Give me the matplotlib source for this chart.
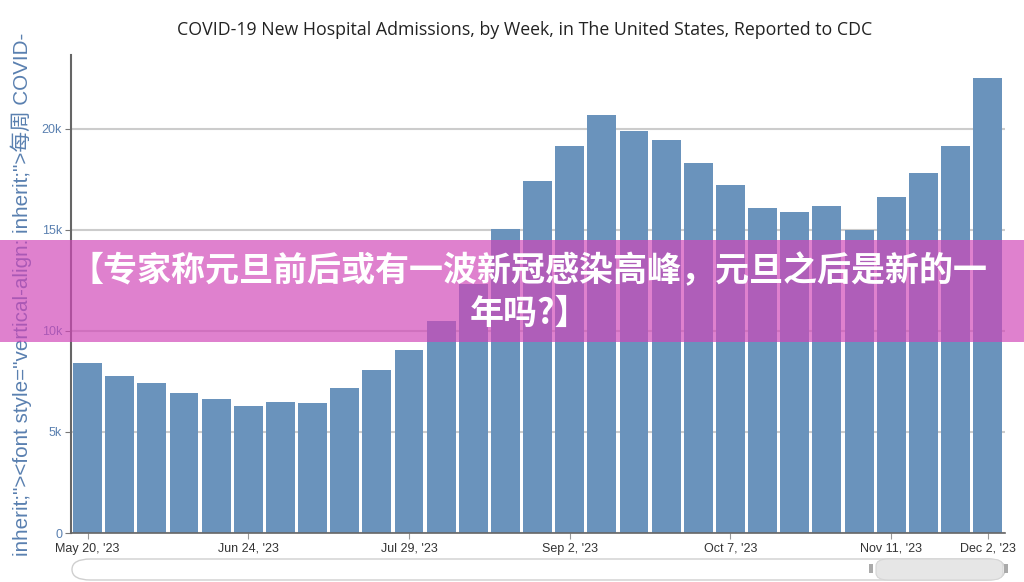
import numpy as np
import matplotlib.pyplot as plt
from matplotlib.patches import Rectangle, FancyBboxPatch

weeks = ["May 20, '23", "May 27, '23", "Jun 3, '23", "Jun 10, '23", "Jun 17, '23",
         "Jun 24, '23", "Jul 1, '23", "Jul 8, '23", "Jul 15, '23", "Jul 22, '23",
         "Jul 29, '23", "Aug 5, '23", "Aug 12, '23", "Aug 19, '23", "Aug 26, '23",
         "Sep 2, '23", "Sep 9, '23", "Sep 16, '23", "Sep 23, '23", "Sep 30, '23",
         "Oct 7, '23", "Oct 14, '23", "Oct 21, '23", "Oct 28, '23", "Nov 4, '23",
         "Nov 11, '23", "Nov 18, '23", "Nov 25, '23", "Dec 2, '23"]
admissions = [8420, 7770, 7430, 6930, 6630, 6290, 6490, 6440, 7180, 8070,
              9060, 10500, 12300, 15050, 17400, 19160, 20700, 19900, 19460, 18300,
              17200, 16100, 15900, 16200, 15000, 16600, 17800, 19160, 22500]
shown_ticks = [0, 5, 10, 15, 20, 25, 28]
y_ticks = [0, 5000, 10000, 15000, 20000]
y_labels = ["0", "5k", "10k", "15k", "20k"]

title = "COVID-19 New Hospital Admissions, by Week, in The United States, Reported to CDC"
ylabel = 'inherit;"><font style="vertical-align: inherit;">每周 COVID-'
banner = "【专家称元旦前后或有一波新冠感染高峰，元旦之后是新的一\n年吗?】"

W, H = 1024, 582
fig = plt.figure(figsize=(W / 100, H / 100), dpi=100)
ax = fig.add_axes([70.5 / W, (H - 533) / H, (1005 - 70.5) / W, (533 - 55) / H])

x = np.arange(len(admissions))
ax.bar(x, admissions, width=0.9, color='#6a93bc', zorder=2)
ax.set_xlim(-0.53, len(admissions) - 0.46)
ax.set_ylim(0, 23650)

ax.set_yticks(y_ticks)
ax.set_yticklabels(y_labels, color='#5a80b0', fontsize=9, family='Liberation Sans')
ax.set_xticks(shown_ticks)
ax.set_xticklabels([weeks[i] for i in shown_ticks], color='#333333', fontsize=9,
                   family='Liberation Sans')
ax.tick_params(axis='y', length=4, color='#777777', pad=2)
ax.tick_params(axis='x', length=4, color='#999999', pad=3)
ax.grid(axis='y', color='#cccccc', linewidth=1.5, zorder=0)
for s in ['top', 'right']:
    ax.spines[s].set_visible(False)
ax.spines['left'].set_color('#666666')
ax.spines['left'].set_linewidth(1.5)
ax.spines['bottom'].set_color('#666666')
ax.spines['bottom'].set_linewidth(1.2)

fig.text(525 / W, 1 - 30 / H, title, ha='center', va='center', fontsize=12.8,
         family='Open Sans', color='#222222')
fig.text(21 / W, 1 - 33 / H, ylabel, rotation=90, ha='center', va='top', fontsize=14.9,
         color='#5a80b0', family=['Liberation Sans', 'Noto Sans CJK SC'])

# range slider
fig.patches.append(FancyBboxPatch((72 / W, (H - 580) / H), (1005 - 72) / W, 21 / H,
                                  boxstyle='round,pad=0,rounding_size=0.018',
                                  transform=fig.transFigure, facecolor='white',
                                  edgecolor='#cfcfcf', linewidth=1.0))
fig.patches.append(FancyBboxPatch((876 / W, (H - 580) / H), (1003 - 876) / W, 21 / H,
                                  boxstyle='round,pad=0,rounding_size=0.012',
                                  transform=fig.transFigure, facecolor='#e6e6e6',
                                  edgecolor='#d5d5d5', linewidth=0.8))
for hx in [871, 1006]:
    fig.patches.append(Rectangle(((hx - 2) / W, (H - 573) / H), 4 / W, 9 / H,
                                 transform=fig.transFigure, facecolor='#aaaaaa',
                                 edgecolor='none'))

# overlay banner
fig.patches.append(Rectangle((0, (H - 342) / H), 1, 102 / H, transform=fig.transFigure,
                             facecolor=(209 / 255, 70 / 255, 184 / 255), alpha=0.68,
                             edgecolor='none', zorder=5))
fig.text(529 / W, 1 - 292 / H, banner, ha='center', va='center', fontsize=24.5,
         fontweight='heavy', color='white', linespacing=1.25,
         family=['Noto Sans CJK SC', 'DejaVu Sans'], zorder=6)

fig.savefig('out.png', dpi=100)
